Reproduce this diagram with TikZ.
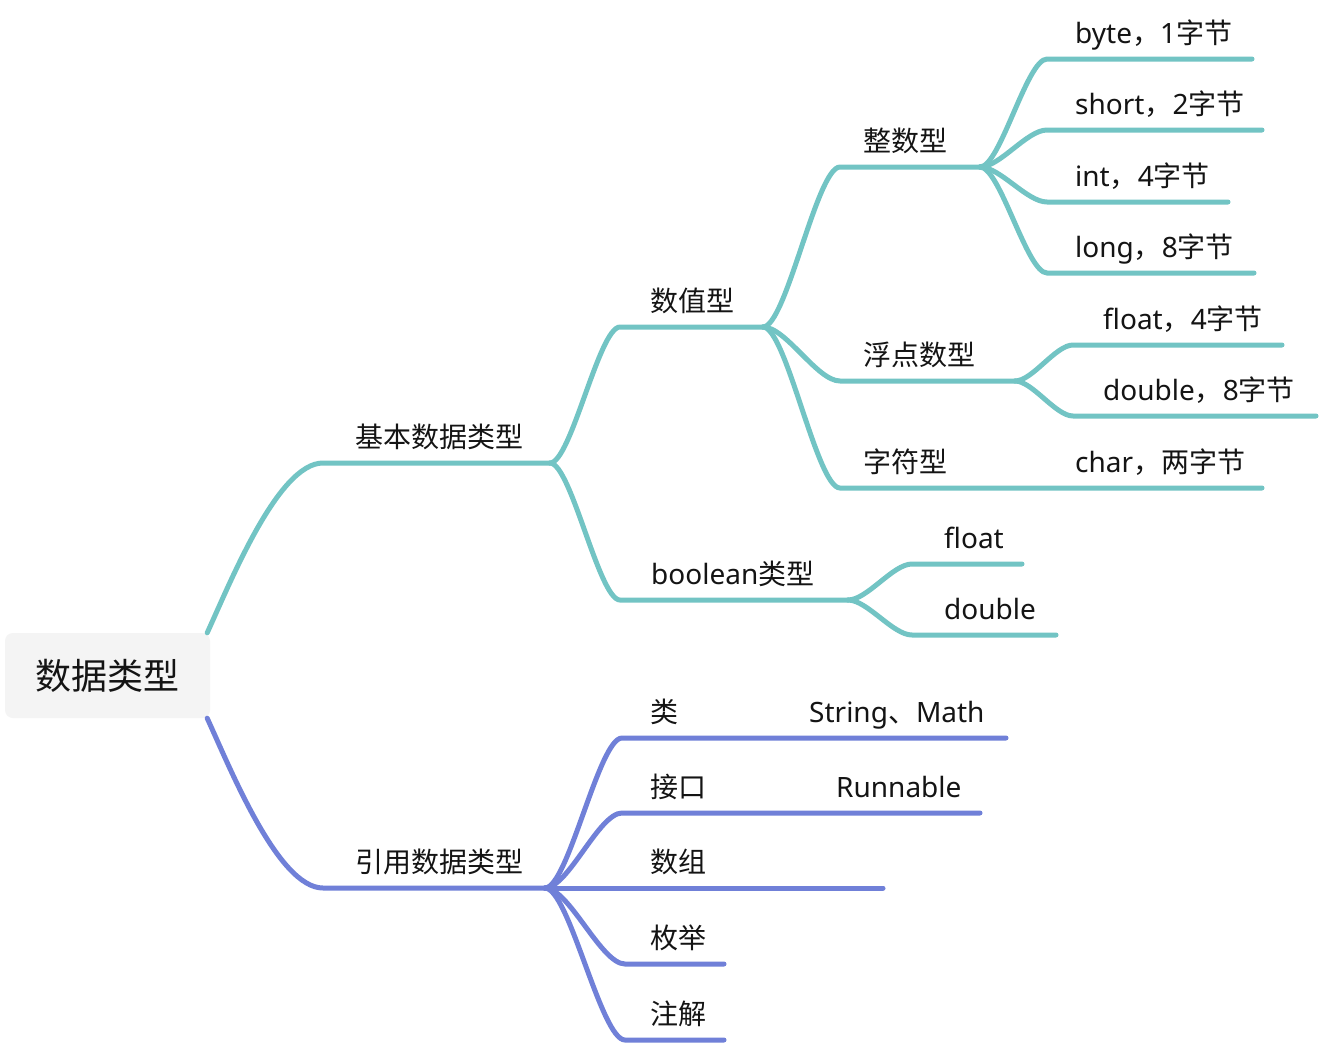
\documentclass[tikz,border=0pt]{standalone}
\usepackage{fontspec}
\setmainfont{Noto Sans}
\newfontfamily\cjk{Noto Sans CJK SC}
\newcommand\zh[1]{{\cjk #1}}
\usetikzlibrary{calc}
\definecolor{tealc}{RGB}{114,196,196}
\definecolor{bluec}{RGB}{112,128,216}
\definecolor{rootfill}{RGB}{244,244,244}
\definecolor{txt}{RGB}{20,20,20}
\begin{document}
\begin{tikzpicture}[x=1pt,y=-1pt,
  tline/.style={draw=tealc, line width=5pt, line cap=round},
  bline/.style={draw=bluec, line width=5pt, line cap=round},
  lbl/.style={anchor=base west, inner sep=0pt, text=txt, font=\fontsize{28}{34}\selectfont},
  branch/.style={to path={.. controls ($(\tikztostart)!0.3!(\tikztotarget |- \tikztostart)$) and ($(\tikztotarget)!0.3!(\tikztostart |- \tikztotarget)$) .. (\tikztotarget)}}]
\fill[white] (0,0) rectangle (1320,1044);
\useasboundingbox (0,0) rectangle (1320,1044);

% root
\node[fill=rootfill, rounded corners=8pt, minimum width=205pt, minimum height=85pt, inner sep=0pt, text=txt, font=\fontsize{36}{42}\selectfont] (root) at (107.5,675.5) {\zh{数据类型}};
\coordinate (rt) at ([xshift=-3pt]root.north east);
\coordinate (rb) at ([xshift=-3pt]root.south east);

% line coordinates (start s / end e)
\coordinate (basic-s) at (323,463); \coordinate (basic-e) at (550,463);
\coordinate (num-s) at (620,327);   \coordinate (num-e) at (763,327);
\coordinate (bool-s) at (620,600);  \coordinate (bool-e) at (848,600);
\coordinate (intg-s) at (840,167);  \coordinate (intg-e) at (980,167);
\coordinate (flg-s) at (840,381);   \coordinate (flg-e) at (1015,381);
\coordinate (chg-s) at (840,488);   \coordinate (chg-e) at (1050,488);
\coordinate (char-e) at (1262,488);
\coordinate (byte-s) at (1047,59);  \coordinate (byte-e) at (1252,59);
\coordinate (short-s) at (1047,130);\coordinate (short-e) at (1262,130);
\coordinate (int-s) at (1047,202);  \coordinate (int-e) at (1228,202);
\coordinate (long-s) at (1047,273); \coordinate (long-e) at (1254,273);
\coordinate (fl-s) at (1073,345);   \coordinate (fl-e) at (1282,345);
\coordinate (db-s) at (1073,416);   \coordinate (db-e) at (1316,416);
\coordinate (bf-s) at (912,564);    \coordinate (bf-e) at (1022,564);
\coordinate (bd-s) at (912,635);    \coordinate (bd-e) at (1056,635);

\coordinate (ref-s) at (323,888);   \coordinate (ref-e) at (545,888);
\coordinate (cls-s) at (622,738);   \coordinate (cls-e) at (700,738);
\coordinate (str-e) at (1006,738);
\coordinate (ifc-s) at (622,813);   \coordinate (ifc-e) at (720,813);
\coordinate (run-e) at (980,813);
\coordinate (arr-s) at (620,888);   \coordinate (arr-e) at (883,888);
\coordinate (enm-s) at (625,964);   \coordinate (enm-e) at (724,964);
\coordinate (ann-s) at (625,1040);  \coordinate (ann-e) at (724,1040);

% teal branch
\draw[tline] (rt) .. controls +(23,-50) and +(-45,0) .. (basic-s) -- (basic-e);
\draw[tline] (basic-e) to[branch] (num-s) -- (num-e);
\draw[tline] (basic-e) to[branch] (bool-s) -- (bool-e);
\draw[tline] (num-e) to[branch] (intg-s) -- (intg-e);
\draw[tline] (num-e) to[branch] (flg-s) -- (flg-e);
\draw[tline] (num-e) to[branch] (chg-s) -- (chg-e) -- (char-e);
\draw[tline] (intg-e) to[branch] (byte-s) -- (byte-e);
\draw[tline] (intg-e) to[branch] (short-s) -- (short-e);
\draw[tline] (intg-e) to[branch] (int-s) -- (int-e);
\draw[tline] (intg-e) to[branch] (long-s) -- (long-e);
\draw[tline] (flg-e) to[branch] (fl-s) -- (fl-e);
\draw[tline] (flg-e) to[branch] (db-s) -- (db-e);
\draw[tline] (bool-e) to[branch] (bf-s) -- (bf-e);
\draw[tline] (bool-e) to[branch] (bd-s) -- (bd-e);

% blue branch
\draw[bline] (rb) .. controls +(23,50) and +(-45,0) .. (ref-s) -- (ref-e);
\draw[bline] (ref-e) to[branch] (cls-s) -- (cls-e) -- (str-e);
\draw[bline] (ref-e) to[branch] (ifc-s) -- (ifc-e) -- (run-e);
\draw[bline] (ref-e) -- (arr-s) -- (arr-e);
\draw[bline] (ref-e) to[branch] (enm-s) -- (enm-e);
\draw[bline] (ref-e) to[branch] (ann-s) -- (ann-e);

% labels
\node[lbl] (basic) at (355,447) {\zh{基本数据类型}};
\node[lbl] (num) at (650,311) {\zh{数值型}};
\node[lbl] (bool) at (651,584) {boolean\zh{类型}};
\node[lbl] (intg) at (863,151) {\zh{整数型}};
\node[lbl] (flg) at (863,365) {\zh{浮点数型}};
\node[lbl] (chg) at (863,472) {\zh{字符型}};
\node[lbl] (char) at (1075,472) {char\zh{，两字节}};
\node[lbl] (byte) at (1075,43) {byte\zh{，}1\zh{字节}};
\node[lbl] (short) at (1075,114) {short\zh{，}2\zh{字节}};
\node[lbl] (int) at (1075,186) {int\zh{，}4\zh{字节}};
\node[lbl] (long) at (1075,257) {long\zh{，}8\zh{字节}};
\node[lbl] (fl) at (1103,329) {float\zh{，}4\zh{字节}};
\node[lbl] (db) at (1103,400) {double\zh{，}8\zh{字节}};
\node[lbl] (bf) at (944,548) {float};
\node[lbl] (bd) at (944,619) {double};

\node[lbl] (ref) at (355,872) {\zh{引用数据类型}};
\node[lbl] (cls) at (650,722) {\zh{类}};
\node[lbl] (str) at (809,722) {String\zh{、}Math};
\node[lbl] (ifc) at (650,797) {\zh{接口}};
\node[lbl] (run) at (836,797) {Runnable};
\node[lbl] (arr) at (650,872) {\zh{数组}};
\node[lbl] (enm) at (650,948) {\zh{枚举}};
\node[lbl] (ann) at (650,1024) {\zh{注解}};
\end{tikzpicture}
\end{document}
